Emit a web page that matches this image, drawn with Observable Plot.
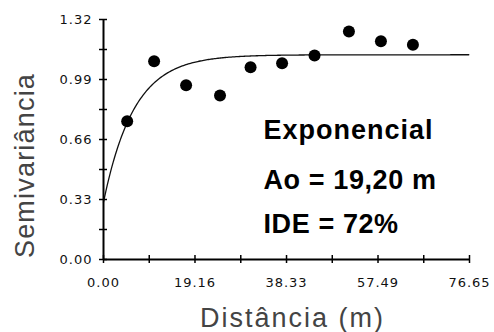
<!DOCTYPE html>
<html><head><meta charset="utf-8">
<script src="https://cdn.jsdelivr.net/npm/d3@7"></script>
<script src="https://cdn.jsdelivr.net/npm/@observablehq/plot@0.6"></script>
<style>
body{margin:0;background:#fff}
</style>
</head><body><div id="chart"></div>
<script>
// Experimental semivariogram points
const distance = [4.96, 10.6, 17.3, 24.4, 30.8, 37.4, 44.2, 51.4, 58.1, 64.8];
const semivariance = [0.761, 1.091, 0.959, 0.902, 1.058, 1.080, 1.122, 1.254, 1.201, 1.181];
// Axis ticks
const xTicks = [0, 9.58, 19.16, 28.75, 38.33, 47.91, 57.49, 67.07, 76.65];
const xTickLabels = [0, 19.16, 38.33, 57.49, 76.65];
const yTicks = [0, 0.165, 0.33, 0.495, 0.66, 0.825, 0.99, 1.155, 1.32];
const yTickLabels = [0, 0.33, 0.66, 0.99, 1.32];
// Fitted exponential model parameters
const nugget = 0.315;
const sill = 1.126;
const rangeAo = 19.20;
const annotations = ["Exponencial", "Ao = 19,20 m", "IDE = 72%"];
const xTitle = "Distância (m)";
const yTitle = "Semivariância";

const points = distance.map((d, i) => ({x: d, y: semivariance[i]}));
const model = d3.range(0, 76.65 + 0.001, 0.25).map(h => ({x: h, y: nugget + (sill - nugget) * (1 - Math.exp(-3 * h / rangeAo))}));

const font = "Liberation Sans, Arial, sans-serif";
const fmt = d => d.toFixed(2);
const baselines = [138, 188, 232];
const spacings = ["1px", "0.6px", "0.6px"];

const chart = Plot.plot({
  width: 494, height: 332,
  marginLeft: 103, marginRight: 25, marginTop: 19, marginBottom: 73,
  style: {background: "#fff", fontFamily: font, overflow: "visible"},
  x: {domain: [0, 76.65]},
  y: {domain: [0, 1.32]},
  marks: [
    Plot.line(model, {x: "x", y: "y", stroke: "#111", strokeWidth: 1.3}),
    Plot.dot(points, {x: "x", y: "y", r: 6, fill: "#000", stroke: "none"}),
    Plot.ruleY([0], {stroke: "#000", strokeWidth: 2}),
    Plot.ruleX([0], {stroke: "#000", strokeWidth: 2}),
    Plot.axisX(xTicks, {tickSize: 8, dy: -4, tickFormat: () => "", stroke: "#000", strokeWidth: 1.5, label: null}),
    Plot.axisY(yTicks, {tickSize: 8, dx: 4, tickFormat: () => "", stroke: "#000", strokeWidth: 1.5, label: null}),
    Plot.axisX(xTickLabels, {tickSize: 0, tickPadding: 18, tickFormat: fmt, fontSize: 13, fontFamily: "DejaVu Sans", fill: "#111", label: null}),
    Plot.axisY(yTickLabels, {tickSize: 0, tickPadding: 11, tickFormat: fmt, fontSize: 13, fontFamily: "DejaVu Sans", fill: "#111", label: null}),
    ...annotations.map((t, i) => Plot.text([t], {
      text: d => d, frameAnchor: "top-left", textAnchor: "start", lineAnchor: "bottom",
      dx: 160, dy: baselines[i] - 19, fontSize: 27, fontWeight: "bold", fill: "#000", ariaLabel: () => "annotation" + i
    })),
    Plot.text([yTitle], {text: d => d, frameAnchor: "left", textAnchor: "middle", rotate: -90, dx: -78, dy: 26,
      fontSize: 27, fill: "#444", lineAnchor: "middle", ariaLabel: () => "ytitle"}),
    Plot.text([xTitle], {text: d => d, frameAnchor: "bottom", textAnchor: "middle", dx: 6, dy: 67,
      fontSize: 27, fill: "#444", lineAnchor: "bottom", ariaLabel: () => "xtitle"})
  ]
});
document.getElementById("chart").appendChild(chart);
const svg = d3.select(chart);
annotations.forEach((t, i) => svg.selectAll(`text[aria-label="annotation${i}"]`).attr("letter-spacing", spacings[i]));
svg.selectAll('text[aria-label="ytitle"]').attr("letter-spacing", "1.2px");
svg.selectAll('text[aria-label="xtitle"]').attr("letter-spacing", "2px");
svg.selectAll('g[aria-label="x-axis tick label"] text, g[aria-label="y-axis tick label"] text').attr("letter-spacing", "1px");
</script>
</body></html>
